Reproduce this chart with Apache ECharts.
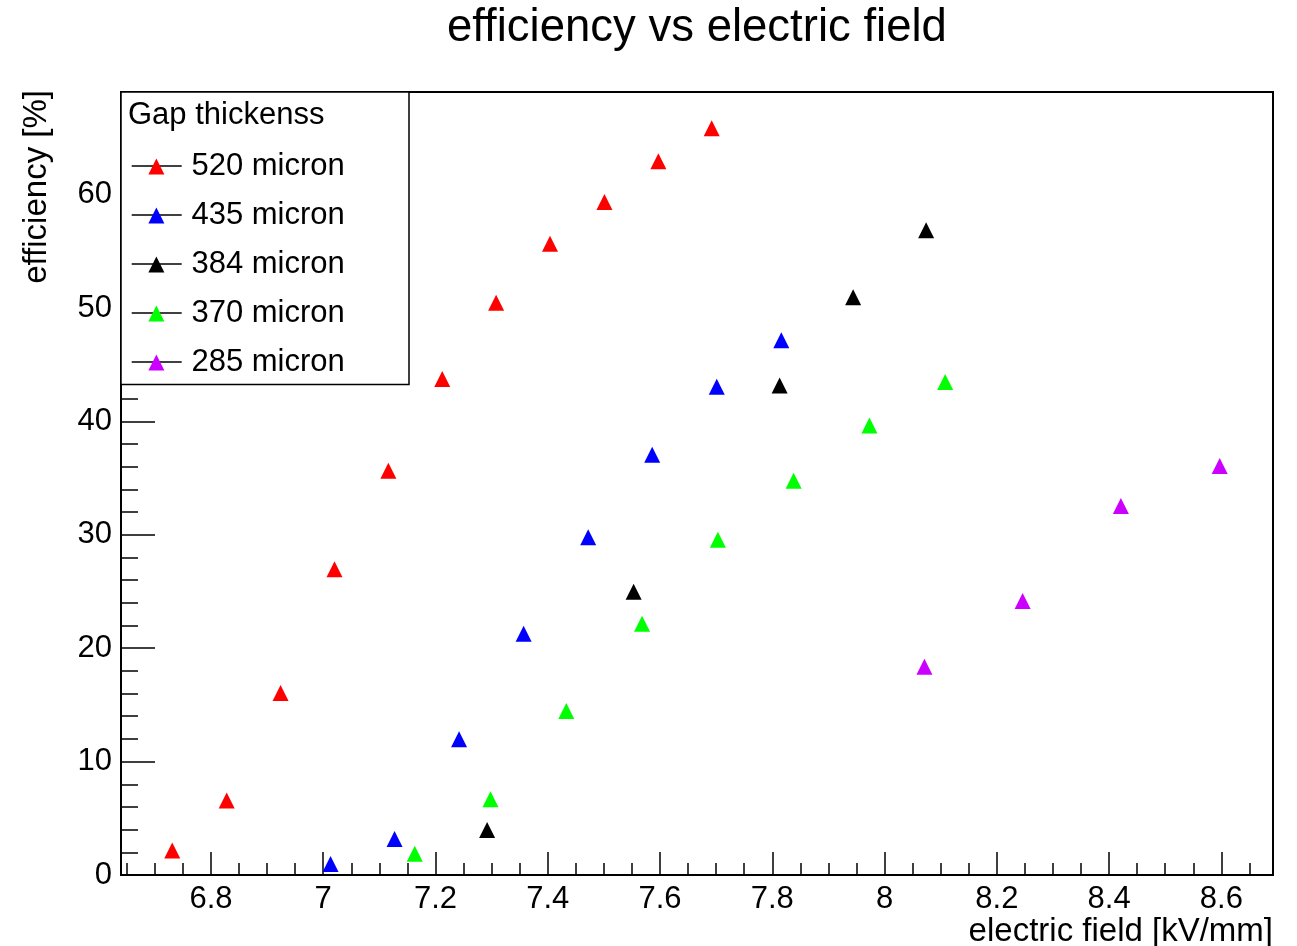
<!DOCTYPE html>
<html>
<head>
<meta charset="utf-8">
<script src="https://cdn.jsdelivr.net/npm/echarts@6/dist/echarts.min.js"></script>
<style>
html,body{margin:0;padding:0;background:#fff;}
#chart{width:1297px;height:946px;}
</style>
</head>
<body>
<div id="chart"></div>
<script>
// ---- data ----
const seriesNames = ['520 micron', '435 micron', '384 micron', '370 micron', '285 micron'];
const seriesColors = ['#ff0000', '#0000ff', '#000000', '#00ff00', '#cc00ff'];

const x520 = [6.731, 6.828, 6.924, 7.020, 7.116, 7.212, 7.308, 7.404, 7.501, 7.597, 7.692];
const y520 = [2.15, 6.57, 16.06, 26.96, 35.66, 43.73, 50.46, 55.66, 59.36, 62.95, 65.85];

const x435 = [7.013, 7.127, 7.242, 7.357, 7.472, 7.586, 7.701, 7.816];
const y435 = [0.97, 3.17, 11.97, 21.27, 29.78, 37.06, 43.06, 47.15];

const x384 = [7.292, 7.553, 7.813, 7.944, 8.074];
const y384 = [3.97, 24.97, 43.17, 50.94, 56.85];

const x370 = [7.163, 7.298, 7.433, 7.568, 7.703, 7.838, 7.973, 8.108];
const y370 = [1.88, 6.67, 14.46, 22.15, 29.56, 34.76, 39.65, 43.47];

const x285 = [8.071, 8.246, 8.421, 8.597];
const y285 = [18.37, 24.16, 32.55, 36.07];

const titleText = 'efficiency vs electric field';
const xTitle = 'electric field [kV/mm]';
const yTitle = 'efficiency [%]';
const legendTitle = 'Gap thickenss';

const xRange = [6.6397, 8.692];
const yRange = [0, 69.05];

// ---- build ----
const xs = [x520, x435, x384, x370, x285];
const ys = [y520, y435, y384, y370, y285];
const FONT = '"Liberation Sans", Arial, Helvetica, sans-serif';

const series = seriesNames.map((name, i) => ({
  name: name,
  type: 'scatter',
  symbol: 'triangle',
  symbolSize: 16,
  itemStyle: { color: seriesColors[i], opacity: 1 },
  emphasis: { disabled: true },
  data: xs[i].map((x, j) => [x, ys[i][j]])
}));

const legendTop = 151, rowStep = 49, lineLeft = 131.7;
const legendLines = seriesNames.map((n, i) => ({
  type: 'line',
  z: 11,
  shape: { x1: lineLeft, y1: legendTop + 15 + i * rowStep, x2: lineLeft + 50, y2: legendTop + 15 + i * rowStep },
  style: { stroke: '#000', lineWidth: 1.5 }
}));

const chart = echarts.init(document.getElementById('chart'), null, { renderer: 'canvas' });
chart.setOption({
  animation: false,
  backgroundColor: '#ffffff',
  textStyle: { fontFamily: FONT },
  title: {
    text: titleText,
    left: 447,
    top: 5,
    padding: 0,
    textStyle: { fontFamily: FONT, fontSize: 45.5, fontWeight: 'normal', color: '#000' }
  },
  grid: {
    left: 121, top: 92, right: 24, bottom: 71,
    show: true, borderColor: '#000', borderWidth: 2, backgroundColor: 'transparent',
    containLabel: false
  },
  xAxis: {
    type: 'value',
    min: xRange[0], max: xRange[1],
    splitNumber: 10,
    axisLine: { show: true, onZero: false, lineStyle: { color: '#000', width: 2 } },
    axisTick: { show: true, inside: true, length: 23, lineStyle: { color: '#000', width: 1.5 } },
    minorTick: { show: true, splitNumber: 4, length: 12, lineStyle: { color: '#000', width: 1.5 } },
    splitLine: { show: false },
    minorSplitLine: { show: false },
    axisLabel: {
      show: true, margin: 9, color: '#000', fontFamily: FONT, fontSize: 31,
      showMinLabel: false, showMaxLabel: false,
      formatter: v => String(Math.round(v * 10) / 10)
    }
  },
  yAxis: {
    type: 'value',
    min: yRange[0], max: yRange[1],
    interval: 10,
    axisLine: { show: true, onZero: false, lineStyle: { color: '#000', width: 2 } },
    axisTick: { show: true, inside: true, length: 34, lineStyle: { color: '#000', width: 1.5 } },
    minorTick: { show: true, splitNumber: 5, length: 17, lineStyle: { color: '#000', width: 1.5 } },
    splitLine: { show: false },
    minorSplitLine: { show: false },
    axisLabel: {
      show: true, margin: 9, color: '#000', fontFamily: FONT, fontSize: 31,
      showMinLabel: true, showMaxLabel: false
    }
  },
  legend: {
    show: true,
    orient: 'vertical',
    left: 148.4,
    top: legendTop,
    padding: 0,
    itemGap: rowStep - 31,
    itemWidth: 50,
    itemHeight: 16,
    z: 20,
    selectedMode: false,
    icon: 'path://M0,16 L8,0 L16,16 Z',
    data: seriesNames,
    textStyle: { fontFamily: FONT, fontSize: 31, lineHeight: 31, color: '#000', padding: [0, 0, 0, 5] }
  },
  graphic: [
    {
      type: 'rect', z: 10,
      shape: { x: 121, y: 92, width: 288, height: 292.5 },
      style: { fill: '#fff', stroke: '#000', lineWidth: 1.5 }
    },
    {
      type: 'text', z: 12, x: 128, y: 115,
      style: { text: legendTitle, font: '31px ' + FONT, fill: '#000', align: 'left', verticalAlign: 'middle' }
    },
    ...legendLines,
    {
      type: 'text', z: 12, x: 1273, y: 932,
      style: { text: xTitle, font: '33px ' + FONT, fill: '#000', align: 'right', verticalAlign: 'middle' }
    },
    {
      type: 'text', z: 12, x: 37, y: 90, rotation: Math.PI / 2,
      style: { text: yTitle, font: '33px ' + FONT, fill: '#000', align: 'right', verticalAlign: 'middle' }
    }
  ],
  series: series
});
</script>
</body>
</html>
